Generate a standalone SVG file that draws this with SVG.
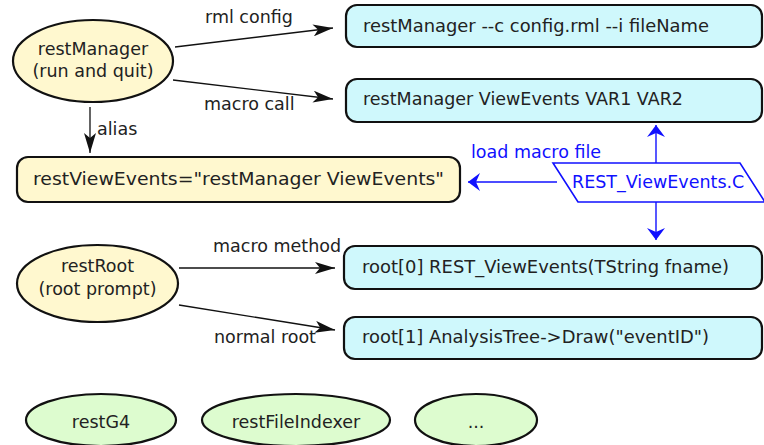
<svg xmlns="http://www.w3.org/2000/svg" width="764" height="445" viewBox="0 0 764 445">
<style>
text{font-family:"DejaVu Sans","Liberation Sans",sans-serif;font-size:17.5px;fill:#222}
.c{text-anchor:middle}
.y{fill:#fff8cf;stroke:#111;stroke-width:2.2}
.b{fill:#cff8fc;stroke:#111;stroke-width:2.2}
.g{fill:#ddfccf;stroke:#111;stroke-width:2.2}
.k{stroke:#111;stroke-width:1.3;fill:none}
.bl{stroke:#1010ff;stroke-width:1.4;fill:none}
.bt{fill:#1010ff}
</style>
<defs>
<marker id="ak" viewBox="0 0 20 12" refX="20" refY="6" markerWidth="20" markerHeight="12" markerUnits="userSpaceOnUse" orient="auto">
<path d="M0,0 L20,6 L0,12 L5,6 Z" fill="#111"/>
</marker>
<marker id="ab" viewBox="0 0 12 18" refX="12" refY="9" markerWidth="12" markerHeight="18" markerUnits="userSpaceOnUse" orient="auto">
<path d="M0,0 L12,9 L0,18 L4,9 Z" fill="#1010ff"/>
</marker>
</defs>
<g id="connectors">
<line class="k" x1="175" y1="47" x2="333" y2="28" marker-end="url(#ak)"/>
<line class="k" x1="173" y1="80" x2="333" y2="99" marker-end="url(#ak)"/>
<line class="k" x1="90" y1="107" x2="90" y2="153" marker-end="url(#ak)"/>
<line class="k" x1="179" y1="268" x2="335" y2="268" marker-end="url(#ak)"/>
<line class="k" x1="179" y1="305" x2="335" y2="330" marker-end="url(#ak)"/>
<line class="bl" x1="656" y1="163" x2="656" y2="125" marker-end="url(#ab)"/>
<line class="bl" x1="656" y1="202" x2="656" y2="240" marker-end="url(#ab)"/>
<line class="bl" x1="557" y1="182" x2="468" y2="182" marker-end="url(#ab)"/>
<text x="205" y="23">rml config</text>
<text x="204" y="110">macro call</text>
<text x="97" y="135">alias</text>
<text x="213" y="252">macro method</text>
<text x="214" y="343">normal root</text>
<text class="bt" x="471" y="158">load macro file</text>
</g>
<g id="restManager">
<ellipse class="y" cx="93" cy="61" rx="80" ry="41"/>
<text class="c" x="93" y="55">restManager</text>
<text class="c" x="93" y="77">(run and quit)</text>
</g>
<g id="cmdConfig">
<rect class="b" x="346" y="5" width="416" height="42" rx="11"/>
<text x="363" y="32" textLength="346" lengthAdjust="spacingAndGlyphs">restManager --c config.rml --i fileName</text>
</g>
<g id="cmdMacro">
<rect class="b" x="346" y="79" width="416" height="43" rx="11"/>
<text x="363" y="105">restManager ViewEvents VAR1 VAR2</text>
</g>
<g id="alias">
<rect class="y" x="17" y="157" width="443" height="45" rx="11"/>
<text x="33" y="185" textLength="411" lengthAdjust="spacingAndGlyphs">restViewEvents="restManager ViewEvents"</text>
</g>
<g id="macroFile">
<polygon points="553,163 740,163 765,202 578,202" fill="#fff" stroke="#1010ff" stroke-width="1.6"/>
<text class="bt" x="572" y="188">REST_ViewEvents.C</text>
</g>
<g id="restRoot">
<ellipse class="y" cx="97.5" cy="283.5" rx="80.5" ry="38.5"/>
<text class="c" x="97.5" y="272">restRoot</text>
<text class="c" x="97.5" y="295">(root prompt)</text>
</g>
<g id="root0">
<rect class="b" x="344" y="246" width="418" height="43" rx="11"/>
<text x="362" y="273" textLength="367" lengthAdjust="spacingAndGlyphs">root[0] REST_ViewEvents(TString fname)</text>
</g>
<g id="root1">
<rect class="b" x="344" y="317" width="418" height="42" rx="11"/>
<text x="362" y="343" textLength="347" lengthAdjust="spacingAndGlyphs">root[1] AnalysisTree-&gt;Draw("eventID")</text>
</g>
<g id="restG4">
<ellipse class="g" cx="101" cy="420" rx="75" ry="26"/>
<text class="c" x="101" y="428">restG4</text>
</g>
<g id="restFileIndexer">
<ellipse class="g" cx="296" cy="420" rx="94" ry="26"/>
<text class="c" x="296" y="428">restFileIndexer</text>
</g>
<g id="more">
<ellipse class="g" cx="476" cy="420" rx="61" ry="26"/>
<text class="c" x="476" y="428">...</text>
</g>
</svg>
